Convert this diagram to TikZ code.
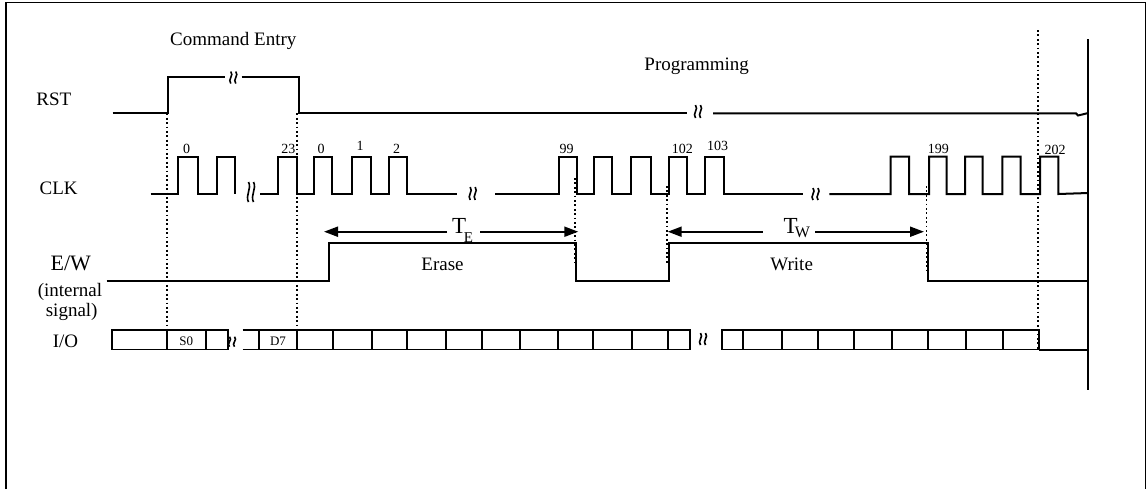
\documentclass[tikz,border=0pt]{standalone}
\usepackage{fontspec}
\setmainfont{Liberation Serif}
\usetikzlibrary{arrows.meta}

% wavy break mark: x, y, half height
\newcommand{\sbreak}[3]{%
  \foreach \d in {-2.5,2.5}
    \draw[line width=0.8pt] ({#1+\d},{#2-#3}) .. controls ({#1+\d+3.5},{#2-#3/3}) and ({#1+\d-3.5},{#2+#3/3}) .. ({#1+\d},{#2+#3});}

\begin{document}
\begin{tikzpicture}[x=0.5pt,y=-0.5pt,
    sig/.style={line width=1pt},
    bus/.style={line width=0.9pt},
    guide/.style={line width=0.9pt,dash pattern=on 0.9pt off 1.3pt},
    tarr/.style={line width=1pt,-{Triangle[length=7pt,width=5pt]}},
    lbl/.style={font=\fontsize{9.5}{11}\selectfont,inner sep=0pt},
    num/.style={font=\fontsize{7}{8}\selectfont,anchor=base,inner sep=0pt}]
	\useasboundingbox (0,0) rectangle (1148,489);
	\draw[line width=0.6pt] (6,489) -- (6,2.5) -- (1145.5,2.5) -- (1145.5,489);
	% RST
	\draw[sig] (112.7,113.3) -- (168.3,113.3) -- (168.3,77.3) -- (225,77.3);
	\draw[sig] (241.7,77.3) -- (299,77.3) -- (299,113.3) -- (686.7,113.3);
	\draw[sig] (713,113.3) -- (1076,113.3) -- (1078,115.5) -- (1088.3,113);
	\sbreak{233.3}{77.5}{6}
	\sbreak{698}{111.5}{6.5}
	% CLK
	\draw[sig] (150.7,194) foreach \r/\f in {178.3/198.3,216.7/235} { -- (\r,194) -- (\r,156.7) -- (\f,156.7) -- (\f,194) };
	\draw[sig] (260,194) foreach \r/\f in {278.3/296.7,314.3/332.3,352.3/370.7,389.3/406.7} { -- (\r,194) -- (\r,156.7) -- (\f,156.7) -- (\f,194) } -- (456.7,194);
	\draw[sig] (495,194) foreach \r/\f in {559/576.7,594.3/612.3,631/650.7,669.3/686.7,705/724} { -- (\r,194) -- (\r,156.7) -- (\f,156.7) -- (\f,194) } -- (802.7,194);
	\draw[sig] (829.3,194) foreach \r/\f in {890.7/909,929/946.7,965/982.7,1002.3/1020.7,1040/1058.3} { -- (\r,194) -- (\r,156.7) -- (\f,156.7) -- (\f,194) } -- (1088.3,193);
	\sbreak{251}{192}{10}
	\sbreak{472.7}{193.5}{6.5}
	\sbreak{815.5}{194}{6}
	\foreach \x/\t/\y [count=\i] in {186.7/0/153.5,288.3/23/153.5,321/0/153.5,360/1/150,396.7/2/153.5,566.7/99/153.5,682.3/102/153.5,717.7/103/150,938.3/199/153,1055/202/154}
		\node[num] (n\i) at (\x,\y) {\t};
	% E/W
	\draw[sig] (106.7,281) -- (328.7,281) -- (328.7,243.3) -- (576,243.3) -- (576,281) -- (668.7,281) -- (668.7,243.3) -- (927.7,243.3) -- (927.7,281) -- (1088.3,281);
	\coordinate (TEa) at (447,231.7);
	\coordinate (TEb) at (480,231.7);
	\coordinate (TEl) at (324,231.7);
	\coordinate (TEr) at (578.3,231.7);
	\coordinate (TWa) at (762.7,231.7);
	\coordinate (TWb) at (815,231.7);
	\coordinate (TWl) at (667.7,231.7);
	\coordinate (TWr) at (924,231.7);
	\draw[tarr] (TEa) -- (TEl);
	\draw[tarr] (TEb) -- (TEr);
	\draw[tarr] (TWa) -- (TWl);
	\draw[tarr] (TWb) -- (TWr);
	\node[anchor=base west,inner sep=0pt,font=\fontsize{11.5}{12}\selectfont] (te) at (451.7,233) {T\kern-1.2pt\raisebox{-4.7pt}{\fontsize{7.5}{8}\selectfont E}};
	\node[anchor=base west,inner sep=0pt,font=\fontsize{11.5}{12}\selectfont] (tw) at (783.3,233) {T\kern-1.5pt\raisebox{-2pt}{\fontsize{8}{9}\selectfont W}};
	\node[lbl,anchor=base] (erase) at (442.5,270) {Erase};
	\node[lbl,anchor=base] (write) at (791.7,270) {Write};
	% I/O
	\draw[bus] (111.7,329.7) rectangle (227.7,349.5);
	\foreach \x in {166.7,205.7} \draw[bus] (\x,329.7) -- (\x,349.5);
	\draw[bus] (242.7,329.7) -- (259.3,329.7) (242.7,349.5) -- (259.3,349.5);
	\draw[bus] (259.3,329.7) rectangle (690,349.5);
	\foreach \x in {296.7,333.3,372.3,407.3,445.7,481.7,520,557.7,593.3,631.7,667.7} \draw[bus] (\x,329.7) -- (\x,349.5);
	\draw[bus] (721.7,329.7) rectangle (1039.3,349.5);
	\foreach \x in {743.3,781.7,817.7,854.3,891.7,928.3,965.7,1003.3} \draw[bus] (\x,329.7) -- (\x,349.5);
	\draw[sig] (1039.3,349.5) -- (1088.3,349.5);
	\sbreak{232}{341.7}{5}
	\sbreak{703}{339}{6}
	\node[num,font=\fontsize{6.5}{7}\selectfont] (s0) at (186.2,345) {S0};
	\node[num,font=\fontsize{6.5}{7}\selectfont] (d7) at (278,345) {D7};
	% end bar
	\draw[line width=1pt] (1088.3,39.3) -- (1088.3,390);
	% guides
	\draw[guide] (167.3,113.3) -- (167.3,335);
	\draw[guide] (296.7,113.3) -- (296.7,335);
	\draw[guide] (575,178) -- (575,262);
	\draw[guide] (666.7,186) -- (666.7,264);
	\draw[guide] (926.5,186) -- (926.5,270);
	\draw[guide] (1038.3,30) -- (1038.3,349);
	% labels
	\node[lbl,anchor=base] (cmd) at (233.3,45) {Command Entry};
	\node[lbl,anchor=base] (prog) at (696.7,70.7) {Programming};
	\node[lbl,anchor=base west] (rst) at (36,105.7) {RST};
	\node[lbl,anchor=base west] (clk) at (39.3,194.3) {CLK};
	\node[anchor=base,inner sep=0pt,font=\fontsize{11}{12}\selectfont] (ew) at (70.8,270) {E/W};
	\node[lbl,anchor=base] (ew1) at (70,296.7) {(internal};
	\node[lbl,anchor=base] (ew2) at (71.7,316) {signal)};
	\node[lbl,anchor=base] (io) at (65.5,347.3) {I/O};
\end{tikzpicture}
\end{document}
